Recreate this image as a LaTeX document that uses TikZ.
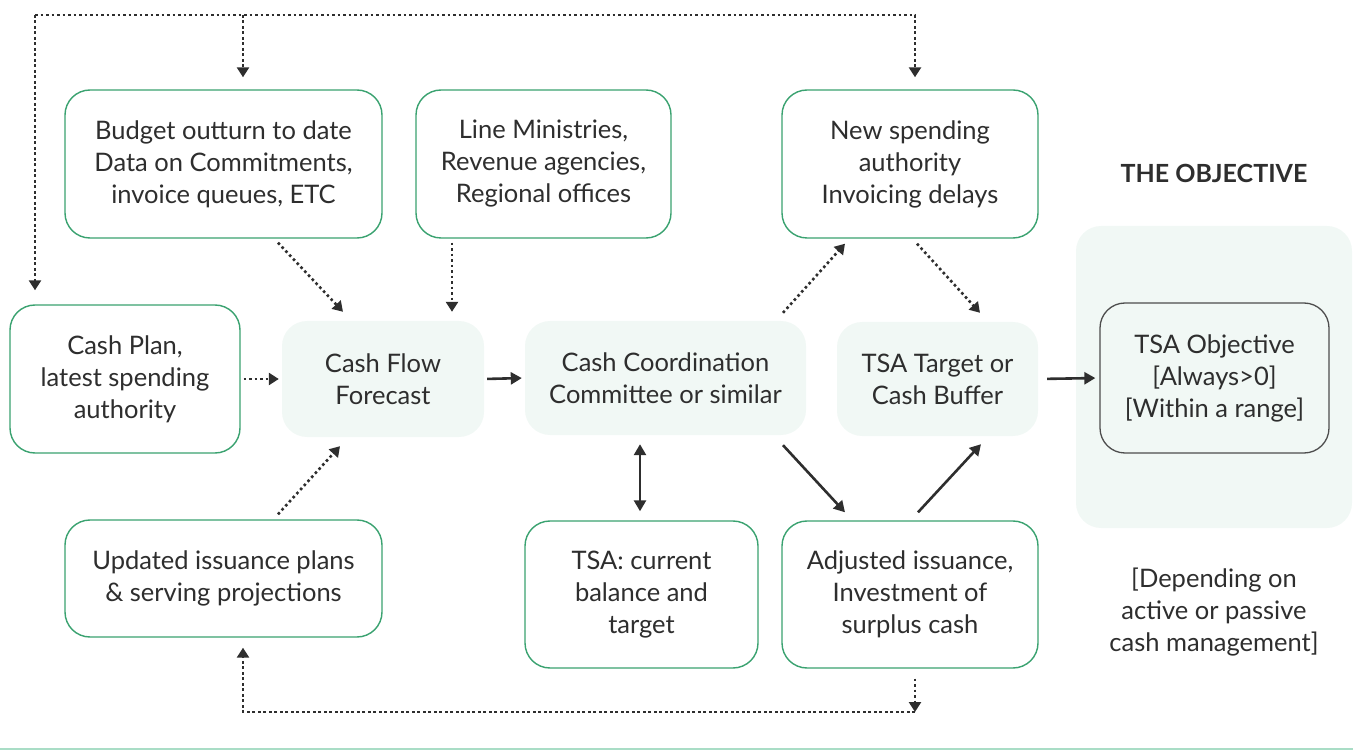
\documentclass[tikz,border=0pt]{standalone}
\usepackage{fontspec}
\setmainfont{Lato}
\usetikzlibrary{arrows.meta}
\definecolor{bgreen}{HTML}{3AA270}
\definecolor{lfill}{HTML}{F1F8F5}
\definecolor{txt}{HTML}{2E2E2E}
\definecolor{lgreen}{HTML}{A9DDC6}
\begin{document}
\begin{tikzpicture}[x=1pt,y=-1pt,
  every node/.style={font=\fontsize{25.5}{32}\selectfont, text=txt, align=center, inner sep=0pt},
  gbox/.style={draw=bgreen, line width=1.4pt, rounded corners=25pt, fill=white},
  fbox/.style={fill=lfill, rounded corners=25pt},
  dotarrow/.style={draw=txt, line width=2.6pt, dash pattern=on 2.6pt off 2.9pt, -{Triangle[length=10pt,width=12pt]}},
  solarrow/.style={draw=txt, line width=2.6pt, -{Triangle[length=11pt,width=12pt]}},
  solboth/.style={draw=txt, line width=2.6pt, {Triangle[length=11pt,width=12pt]}-{Triangle[length=11pt,width=12pt]}}
]
\useasboundingbox (0,0) rectangle (1353,751);
% objective panel
\node[fbox, minimum width=276pt, minimum height=302pt] (panel) at (1214,377) {};
\node[font=\fontsize{25}{32}\selectfont\bfseries] (objt) at (1214,173) {THE OBJECTIVE};
\node[draw=txt!85, line width=1.3pt, rounded corners=25pt, fill=lfill, minimum width=229pt, minimum height=150pt] (tsao) at (1214.5,378) {TSA Objective\\{[Always>0]}\\{[Within a range]}};
\node (dep) at (1214,612) {{[Depending on}\\active or passive\\cash management]};

% green boxes
\node[gbox, minimum width=317pt, minimum height=148pt] (budget) at (223.5,164) {Budget outturn to date\\Data on Commitments,\\invoice queues, ETC};
\node[gbox, minimum width=255pt, minimum height=148pt] (lines) at (543.5,164) {Line Ministries,\\Revenue agencies,\\Regional offices};
\node[gbox, minimum width=256pt, minimum height=148pt] (newsp) at (910,164) {New spending\\authority\\Invoicing delays};
\node[gbox, minimum width=230pt, minimum height=148pt] (cashplan) at (125,379) {Cash Plan,\\latest spending\\authority};
\node[gbox, minimum width=317pt, minimum height=117pt] (updated) at (223.5,578.5) {Updated issuance plans\\\& serving projections};
\node[gbox, minimum width=233pt, minimum height=147pt] (tsac) at (641.5,594.5) {TSA: current\\balance and\\target};
\node[gbox, minimum width=256pt, minimum height=147pt] (adj) at (910,594.5) {Adjusted issuance,\\Investment of\\surplus cash};

% filled boxes
\node[fbox, minimum width=202pt, minimum height=116pt] (cff) at (383,379) {Cash Flow\\Forecast};
\node[fbox, minimum width=281pt, minimum height=114pt] (ccc) at (665.5,378) {Cash Coordination\\Committee or similar};
\node[fbox, minimum width=201pt, minimum height=114pt] (tsat) at (937.5,379) {TSA Target or\\Cash Buffer};

% top loop
\coordinate (tl) at (35,15);
\coordinate (btip) at ([xshift=19.5pt,yshift=12pt]budget.north);
\coordinate (ntip) at ([xshift=5pt,yshift=12pt]newsp.north);
\coordinate (ctip) at ([xshift=-90pt,yshift=14pt]cashplan.north);
\draw[dotarrow] (tl) -- (ctip -| tl);
\draw[dotarrow] (tl) -- (tl -| ntip) -- (ntip);
\draw[dotarrow] (tl -| btip) -- (btip);

% bottom loop
\coordinate (astart) at ([xshift=5pt,yshift=-10pt]adj.south);
\coordinate (utip) at ([xshift=19.5pt,yshift=-10pt]updated.south);
\coordinate (br) at (915,712);
\draw[dotarrow] (astart) -- (br);
\draw[dotarrow] (br) -- (br -| utip) -- (utip);

% into cash flow forecast
\draw[dotarrow, shorten <=3pt, shorten >=3pt] (cashplan.east) -- (cff.west);
\draw[dotarrow] ([xshift=54.5pt,yshift=-4pt]budget.south) -- ([xshift=-40pt,yshift=9pt]cff.north);
\draw[dotarrow] ([xshift=-91.5pt,yshift=-4pt]lines.south) -- ([xshift=69pt,yshift=9pt]cff.north);
\draw[dotarrow] ([xshift=54.5pt,yshift=5pt]updated.north) -- ([xshift=-43pt,yshift=-9pt]cff.south);

% flow
\draw[solarrow, shorten <=3pt, shorten >=3pt] (cff.east) -- (ccc.west);
\draw[dotarrow] ([xshift=117.5pt,yshift=8pt]ccc.north) -- ([xshift=-65pt,yshift=-5pt]newsp.south);
\draw[dotarrow] ([xshift=7pt,yshift=-5pt]newsp.south) -- ([xshift=42.5pt,yshift=9pt]tsat.north);
\draw[solarrow] ([xshift=117.5pt,yshift=-10pt]ccc.south) -- ([xshift=-65pt,yshift=8pt]adj.north);
\draw[solarrow] ([xshift=8pt,yshift=8pt]adj.north) -- ([xshift=43.5pt,yshift=-8pt]tsat.south);
\draw[solboth] ([xshift=-25.5pt,yshift=-9pt]ccc.south) -- ([xshift=-25.5pt,yshift=9pt]tsac.north -| ccc.south);
\draw[solarrow, shorten <=9pt, shorten >=4pt] (tsat.east) -- (tsao.west);

% bottom rule
\draw[lgreen, line width=2pt] (0,749) -- (1353,749);
\end{tikzpicture}
\end{document}
